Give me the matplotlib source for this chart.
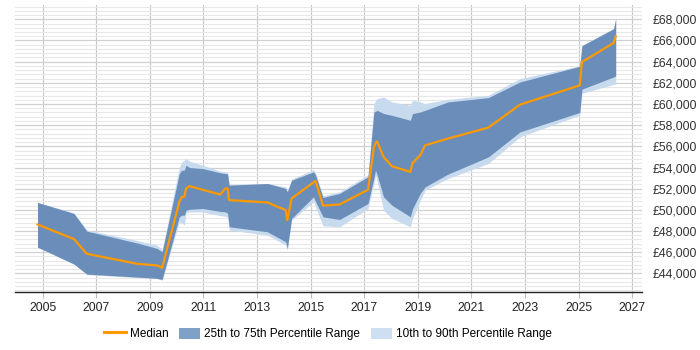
import matplotlib.pyplot as plt
from matplotlib.lines import Line2D
from matplotlib.patches import Patch
from matplotlib.ticker import MultipleLocator, FuncFormatter

plt.rcParams['font.family'] = ['Liberation Sans', 'DejaVu Sans']

# dates as decimal years
dates = [2004.81, 2006.17, 2006.65, 2008.54, 2009.27, 2009.46, 2010.10, 2010.19,
         2010.29, 2010.35, 2010.48, 2010.97, 2011.63, 2011.81, 2011.90, 2011.96,
         2013.39, 2014.07, 2014.13, 2014.29, 2015.11, 2015.18, 2015.46, 2016.08,
         2017.14, 2017.36, 2017.42, 2017.48, 2017.72, 2018.03, 2018.72, 2018.80,
         2019.09, 2019.27, 2020.12, 2021.63, 2022.81, 2025.04, 2025.12, 2026.30,
         2026.38]

median = [48620, 47240, 45850, 44900, 44750, 44530, 50750, 51230,
          51230, 52020, 52240, 51900, 51450, 52020, 52020, 50920,
          50700, 49970, 49030, 51075, 52600, 52750, 50400, 50510,
          51900, 55900, 56300, 56450, 55000, 54120, 53585, 54430,
          55160, 56100, 56730, 57770, 59940, 61760, 63960, 65760,
          66390]

p25 = [46480, 44880, 43930, 43650, 43530, 43430, 49340, 49500,
       49500, 49970, 50050, 50130, 49850, 49810, 49700, 48400,
       47925, 46980, 46360, 49190, 51230, 50800, 49340, 49090,
       50600, 53000, 53745, 53300, 51230, 50440, 49340, 50100,
       51550, 52170, 53370, 55000, 57360, 59200, 61400, 62550,
       62650]

p75 = [50700, 49660, 47990, 46860, 46360, 46040, 53430, 53750,
       53750, 54220, 54000, 53900, 53500, 53430, 53400, 52330,
       52490, 52020, 51700, 52800, 53590, 53300, 51170, 51550,
       53120, 59245, 59300, 59400, 59100, 58930, 58460, 59090,
       59250, 59400, 60190, 60600, 62080, 63560, 65500, 67110,
       68060]

p10 = [46480, 44880, 43880, 43600, 43500, 43350, 48870, 48740,
       48560, 49710, 49800, 49810, 49450, 49400, 49300, 48085,
       47610, 46670, 46200, 49030, 50760, 50300, 48490, 48400,
       50130, 52500, 53274, 52700, 49970, 49190, 48400, 49190,
       50900, 51860, 52960, 54380, 56890, 58950, 61000, 61850,
       61900]

p90 = [50700, 49700, 48100, 47100, 46670, 46260, 54000, 54530,
       54700, 54850, 54600, 54220, 53650, 53590, 53550, 52400,
       52490, 52170, 51800, 52900, 53810, 53500, 51330, 51700,
       53300, 60040, 60300, 60500, 60660, 60190, 59880, 60350,
       60200, 60040, 60440, 60820, 62400, 63600, 65540, 67110,
       68060]

year_ticks = list(range(2005, 2028, 2))

fig = plt.figure(figsize=(7, 3.5), dpi=100)
ax = fig.add_axes([0.0214, 0.1657, 0.8957, 0.82])

ax.fill_between(dates, p10, p90, color='#c8daee', lw=0, zorder=2)
ax.fill_between(dates, p25, p75, color='#6a8eb9', lw=0, zorder=3)
ax.plot(dates, median, color='#ff9900', lw=1.6, zorder=4)

ax.set_xlim(2003.97, 2027.36)
ax.set_ylim(42240, 69350)
ax.set_xticks(year_ticks)
ax.yaxis.set_major_locator(MultipleLocator(2000))
ax.yaxis.set_minor_locator(MultipleLocator(400))
ax.yaxis.set_major_formatter(FuncFormatter(lambda v, p: '£{:,.0f}'.format(v)))
ax.set_yticks([v for v in range(44000, 69000, 2000)])

ax.yaxis.tick_right()
ax.tick_params(axis='y', which='both', length=0, pad=8, labelsize=8.8, colors='#333333')
ax.tick_params(axis='x', length=4, color='#bbbbbb', pad=3, labelsize=8.8, colors='#333333')
ax.tick_params(axis='x', colors='#bbbbbb', labelcolor='#222222')

ax.grid(True, axis='y', which='major', color='#d0d0d0', lw=0.9, zorder=0)
ax.grid(True, axis='y', which='minor', color='#e8e8e8', lw=0.8, zorder=0)
ax.grid(True, axis='x', which='major', color='#c8c8c8', lw=0.8, zorder=0)
ax.set_axisbelow(True)

for s in ['top', 'left', 'right']:
    ax.spines[s].set_visible(False)
ax.spines['bottom'].set_color('#222222')
ax.spines['bottom'].set_linewidth(1.0)

handles = [Line2D([0], [0], color='#ff9900', lw=2.2),
           Patch(facecolor='#7fa1c8', edgecolor='none'),
           Patch(facecolor='#cddff0', edgecolor='none')]
labels = ['Median', '25th to 75th Percentile Range', '10th to 90th Percentile Range']
fig.legend(handles, labels, loc='center', bbox_to_anchor=(0.469, 0.046), ncol=3,
           frameon=False, fontsize=8.5, handlelength=1.8, handleheight=1.1,
           handletextpad=0.35, columnspacing=0.9)

fig.savefig('out.png', dpi=100)
